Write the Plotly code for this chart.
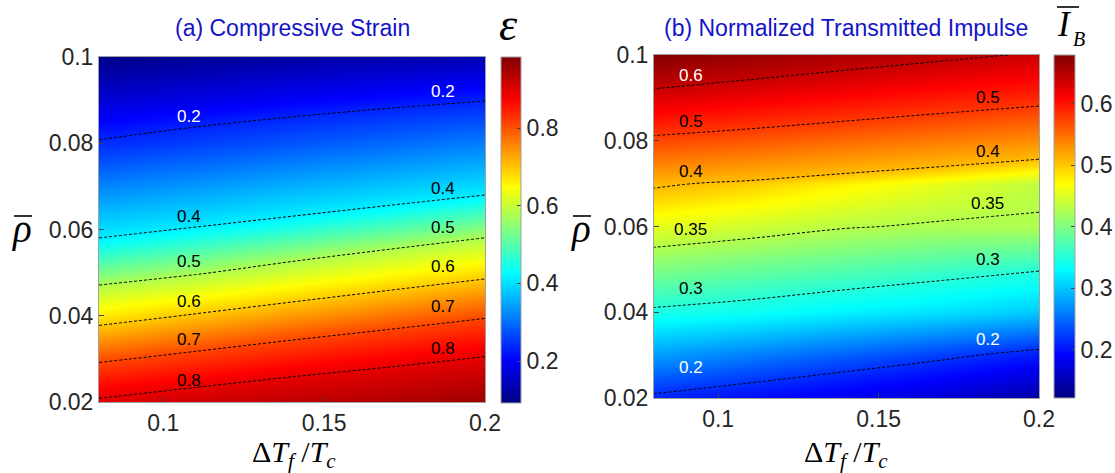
import numpy as np
import plotly.graph_objects as go

# ---------------- data ----------------
x_vals = [0.08, 0.11, 0.14, 0.17, 0.20]          # dT_f / T_c
y_vals = [0.02, 0.03, 0.04, 0.05, 0.06, 0.07, 0.08, 0.09, 0.10]  # rho bar

# (a) compressive strain, rows = y_vals, cols = x_vals
strain = [
    [0.810, 0.841, 0.870, 0.897, 0.930],
    [0.690, 0.720, 0.750, 0.777, 0.806],
    [0.574, 0.605, 0.635, 0.664, 0.693],
    [0.470, 0.495, 0.525, 0.555, 0.584],
    [0.383, 0.405, 0.428, 0.453, 0.480],
    [0.294, 0.315, 0.337, 0.358, 0.380],
    [0.205, 0.226, 0.247, 0.268, 0.289],
    [0.144, 0.157, 0.170, 0.184, 0.198],
    [0.092, 0.100, 0.110, 0.115, 0.120],
]
# (b) normalized transmitted impulse
impulse = [
    [0.195, 0.182, 0.168, 0.153, 0.130],
    [0.2455, 0.233, 0.220, 0.206, 0.190],
    [0.296, 0.290, 0.281, 0.274, 0.264],
    [0.332, 0.324, 0.317, 0.309, 0.3015],
    [0.367, 0.360, 0.3515, 0.3473, 0.348],
    [0.404, 0.394, 0.3806, 0.3678, 0.354],
    [0.489, 0.476, 0.4616, 0.4484, 0.4347],
    [0.580, 0.562, 0.545, 0.529, 0.5153],
    [0.674, 0.651, 0.630, 0.6116, 0.5945],
]

strain_levels = [0.2, 0.4, 0.5, 0.6, 0.7, 0.8]
impulse_levels = [0.2, 0.3, 0.35, 0.4, 0.5, 0.6]

strain_range = [0.092, 0.983]
impulse_range = [0.122, 0.679]

strain_cbar_ticks = [0.2, 0.4, 0.6, 0.8]
impulse_cbar_ticks = [0.2, 0.3, 0.4, 0.5, 0.6]

x_ticks = [0.1, 0.15, 0.2]
x_ticktext = ["0.1", "0.15", "0.2"]
y_ticks = [0.02, 0.04, 0.06, 0.08, 0.1]
y_ticktext = ["0.02", "0.04", "0.06", "0.08", "0.1"]

# contour labels (text, x, y, white?)
strain_labels = [
    ("0.2", 0.108, 0.0861, True), ("0.4", 0.108, 0.0630, False),
    ("0.5", 0.108, 0.0525, False), ("0.6", 0.108, 0.0433, False),
    ("0.7", 0.108, 0.0345, False), ("0.8", 0.108, 0.0251, False),
    ("0.2", 0.187, 0.0919, True), ("0.4", 0.187, 0.0694, False),
    ("0.5", 0.187, 0.0605, False), ("0.6", 0.187, 0.0515, False),
    ("0.7", 0.187, 0.0421, False), ("0.8", 0.187, 0.0325, False),
]
impulse_labels = [
    ("0.6", 0.0914, 0.0953, True), ("0.5", 0.0914, 0.0844, False),
    ("0.4", 0.0914, 0.0728, False), ("0.35", 0.0914, 0.0594, False),
    ("0.3", 0.0914, 0.0456, False), ("0.2", 0.0914, 0.0271, True),
    ("0.5", 0.184, 0.0901, False), ("0.4", 0.184, 0.0774, False),
    ("0.35", 0.184, 0.0654, False), ("0.3", 0.184, 0.0522, False),
    ("0.2", 0.184, 0.0337, True),
]

# colour seen in the image at each value (value, position along jet)
strain_colour_stops = [(0.092, 0.01), (0.2, 0.16), (0.4, 0.36), (0.5, 0.55),
                       (0.6, 0.68), (0.7, 0.81), (0.8, 0.90), (0.983, 1.0)]
impulse_colour_stops = [(0.122, 0.02), (0.2, 0.17), (0.3, 0.41), (0.35, 0.55),
                        (0.4, 0.69), (0.5, 0.82), (0.6, 0.93), (0.679, 1.0)]

# ---------------- styling ----------------
W, H = 1115, 473
JET = [(0.0, (0, 0, 128)), (0.125, (0, 0, 255)), (0.375, (0, 255, 255)),
       (0.625, (255, 255, 0)), (0.875, (255, 0, 0)), (1.0, (128, 0, 0))]
jet = [[p, "rgb(%d,%d,%d)" % c] for p, c in JET]


def jet_rgb(f):
    ps = [p for p, _ in JET]
    r = np.interp(f, ps, [c[0] for _, c in JET])
    g = np.interp(f, ps, [c[1] for _, c in JET])
    b = np.interp(f, ps, [c[2] for _, c in JET])
    return "rgb(%d,%d,%d)" % (round(r), round(g), round(b))


def seen_scale(stops, zr, n=96):
    vs = [s[0] for s in stops]
    fs = [s[1] for s in stops]
    out = []
    for i in range(n + 1):
        p = i / n
        v = zr[0] + p * (zr[1] - zr[0])
        out.append([p, jet_rgb(float(np.interp(v, vs, fs)))])
    return out


SANS = "Liberation Sans, Arial, sans-serif"
SERIF = "Liberation Serif, Times New Roman, serif"
TICKC = "#262626"
FRAME = "#a0a0a0"


def px(x):
    return x / W


def py(y):
    return 1 - y / H


fig = go.Figure()


def add_panel(z, levels, zr, stops, cticks, xa, ya, cb_x, cb_y0, cb_y1, cb_th):
    fig.add_trace(go.Heatmap(
        x=x_vals, y=y_vals, z=z, zsmooth="best",
        colorscale=seen_scale(stops, zr), zmin=zr[0], zmax=zr[1],
        xaxis=xa, yaxis=ya, hoverinfo="skip", showscale=False,
    ))
    for lv in levels:
        fig.add_trace(go.Contour(
            x=x_vals, y=y_vals, z=z, xaxis=xa, yaxis=ya,
            autocontour=False,
            contours=dict(start=lv, end=lv, size=1, coloring="none", showlabels=False),
            line=dict(color="black", width=1, dash="3px,2px"),
            showscale=False, hoverinfo="skip",
        ))
    # colour bar (jet over the value range)
    fig.add_trace(go.Scatter(
        x=[None], y=[None], mode="markers", xaxis=xa, yaxis=ya, hoverinfo="skip",
        marker=dict(color=[zr[0]], cmin=zr[0], cmax=zr[1], colorscale=jet, showscale=True,
                    colorbar=dict(
                        x=px(cb_x), xanchor="left", y=py(cb_y1), yanchor="bottom",
                        len=(cb_y1 - cb_y0) / H, lenmode="fraction",
                        thickness=cb_th, thicknessmode="pixels", xpad=0, ypad=0,
                        outlinewidth=1, outlinecolor=FRAME,
                        tickvals=cticks, ticktext=[f"{t:g}" for t in cticks],
                        ticks="inside", ticklen=4, tickcolor="#444",
                        tickfont=dict(family=SANS, size=23, color=TICKC),
                    )),
    ))


add_panel(strain, strain_levels, strain_range, strain_colour_stops, strain_cbar_ticks,
          "x", "y", 501, 57, 403, 20)
add_panel(impulse, impulse_levels, impulse_range, impulse_colour_stops, impulse_cbar_ticks,
          "x2", "y2", 1054, 55, 398, 21)

axis_common = dict(showgrid=False, zeroline=False, showline=True, mirror=True,
                   linecolor=FRAME, linewidth=1, ticks="inside", ticklen=5,
                   tickcolor="#444", automargin=False,
                   tickfont=dict(family=SANS, size=23, color=TICKC))

fig.update_layout(
    width=W, height=H, margin=dict(l=0, r=0, t=0, b=0, autoexpand=False),
    paper_bgcolor="white", plot_bgcolor="white", showlegend=False,
    xaxis=dict(domain=[px(99), px(485)], range=[0.08, 0.2], anchor="y",
               tickvals=x_ticks, ticktext=x_ticktext, **axis_common),
    yaxis=dict(domain=[py(402), py(57)], range=[0.02, 0.1], anchor="x",
               tickvals=y_ticks, ticktext=y_ticktext, **axis_common),
    xaxis2=dict(domain=[px(654), px(1039)], range=[0.08, 0.2], anchor="y2",
                tickvals=x_ticks, ticktext=x_ticktext, **axis_common),
    yaxis2=dict(domain=[py(398), py(55)], range=[0.02, 0.1], anchor="x2",
                tickvals=y_ticks, ticktext=y_ticktext, **axis_common),
)

ann = []
for (t, xx, yy, white) in strain_labels:
    ann.append(dict(text=t, x=xx, y=yy, xref="x", yref="y", showarrow=False,
                    font=dict(family=SANS, size=17, color="white" if white else "black")))
for (t, xx, yy, white) in impulse_labels:
    ann.append(dict(text=t, x=xx, y=yy, xref="x2", yref="y2", showarrow=False,
                    font=dict(family=SANS, size=17, color="white" if white else "black")))


def paper_text(text, xc, yc, family, size, color="black"):
    ann.append(dict(text=text, x=px(xc), y=py(yc), xref="paper", yref="paper",
                    showarrow=False, xanchor="center", yanchor="middle",
                    font=dict(family=family, size=size, color=color)))


# panel titles
paper_text("(a) Compressive Strain", 292, 28, SANS, 23, "#1414c8")
paper_text("(b) Normalized Transmitted Impulse", 846, 28, SANS, 23, "#1414c8")
# colour bar titles
paper_text("<i>ε</i>", 508, 24, SERIF, 46)
paper_text("<i>I</i>", 1064, 24, SERIF, 35)
paper_text("<i>B</i>", 1079, 39, SERIF, 20)
# y-axis titles
paper_text("<i>ρ</i>", 22, 229, SERIF, 39)
paper_text("<i>ρ</i>", 581, 229, SERIF, 39)
# x-axis titles
for xc in (294, 846):
    paper_text("Δ<i>T</i><sub><i>f</i></sub> /<i>T</i><sub><i>c</i></sub>", xc, 454, SERIF, 30)

shapes = []


def bar(x0, x1, yy):
    shapes.append(dict(type="line", xref="paper", yref="paper",
                       x0=px(x0), x1=px(x1), y0=py(yy), y1=py(yy),
                       line=dict(color="black", width=1.6)))


bar(14, 32, 216)      # bar over rho (left)
bar(573, 591, 216)    # bar over rho (right)
bar(1057, 1079, 7)    # bar over I

fig.update_layout(annotations=ann, shapes=shapes)
fig.write_html("out.html")
